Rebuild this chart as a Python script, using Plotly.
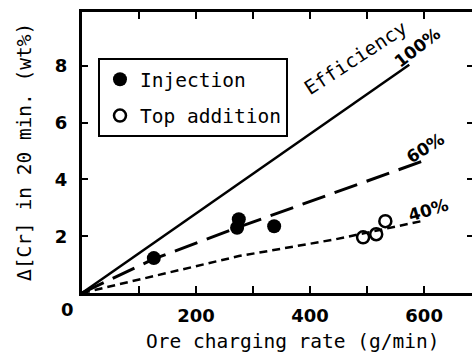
import plotly.graph_objects as go

# ---- data ----
inj_x = [126, 272, 275, 337]
inj_y = [1.23, 2.30, 2.60, 2.35]
top_x = [493, 516, 532]
top_y = [1.96, 2.07, 2.53]

eff100_x = [0, 574]
eff100_y = [0, 8.04]
eff60_x = [0, 126, 272, 595]
eff60_y = [0, 1.20, 2.30, 4.63]
eff40_x = [0, 275, 444, 595]
eff40_y = [0, 1.30, 1.89, 2.53]

x_ticks = [100, 200, 300, 400, 500, 600]
x_ticktext = ["", "200", "", "400", "", "600"]
y_ticks = [2, 4, 6, 8]

MONO = "DejaVu Sans Mono"
BOLD = "DejaVu Sans"

fig = go.Figure()

fig.add_trace(go.Scatter(x=eff100_x, y=eff100_y, mode="lines",
                         line=dict(color="black", width=2.5), showlegend=False))
fig.add_trace(go.Scatter(x=eff60_x, y=eff60_y, mode="lines",
                         line=dict(color="black", width=3, dash="24px,10px"), showlegend=False))
fig.add_trace(go.Scatter(x=eff40_x, y=eff40_y, mode="lines",
                         line=dict(color="black", width=2.5, dash="8px,5px"), showlegend=False))

fig.add_trace(go.Scatter(x=inj_x, y=inj_y, mode="markers", name="Injection",
                         legendgroup="a",
                         marker=dict(symbol="circle", size=14, color="black")))
fig.add_trace(go.Scatter(x=top_x, y=top_y, mode="markers", name="Top addition",
                         legendgroup="b",
                         marker=dict(symbol="circle-open", size=12, color="black",
                                     line=dict(width=2.5, color="black"))))
# empty trace to carry the right-hand tick axis
fig.add_trace(go.Scatter(x=[], y=[], yaxis="y2", showlegend=False, hoverinfo="skip"))

fig.update_layout(
    width=472, height=356,
    margin=dict(l=82, r=0, t=12, b=63),
    paper_bgcolor="white", plot_bgcolor="white",
    font=dict(family=MONO, size=19.5, color="black"),
    xaxis=dict(range=[0, 684], showgrid=False, zeroline=False,
               showline=True, linecolor="black", linewidth=3, mirror="ticks",
               ticks="inside", ticklen=7, tickwidth=2, tickcolor="black",
               tickvals=x_ticks, ticktext=x_ticktext,
               tickfont=dict(family=BOLD, size=18, color="black", weight="bold"),
               ticklabelstandoff=4),
    yaxis=dict(range=[0, 9.9], showgrid=False, zeroline=False,
               showline=True, linecolor="black", linewidth=3,
               ticks="inside", ticklen=6, tickwidth=2, tickcolor="black",
               tickvals=y_ticks,
               tickfont=dict(family=BOLD, size=18, color="black", weight="bold"),
               ticklabelstandoff=8),
    yaxis2=dict(overlaying="y", matches="y", side="right", showgrid=False,
                zeroline=False, showline=False, ticks="inside", ticklen=5,
                tickwidth=2, tickcolor="black", tickvals=y_ticks,
                showticklabels=False),
    legend=dict(x=0.041, y=0.836, xanchor="left", yanchor="top",
                bordercolor="black", borderwidth=2, bgcolor="white",
                font=dict(family=MONO, size=19.5, color="black"),
                tracegroupgap=8, itemsizing="trace"),
    showlegend=True,
)

ann = [
    dict(text="0", x=-0.036, y=-0.06, xref="paper", yref="paper",
         font=dict(family=BOLD, size=18, weight="bold")),
    dict(text="Ore charging rate (g/min)", x=0.541, y=-0.174, xref="paper", yref="paper",
         font=dict(family=MONO, size=19.5)),
    dict(text="Δ[Cr] in 20 min. (wt%)", x=-0.146, y=0.502, xref="paper", yref="paper",
         textangle=-90, font=dict(family=MONO, size=19.5)),
    dict(text="Efficiency", x=479, y=8.27, xref="x", yref="y", textangle=-33,
         font=dict(family=MONO, size=19.5)),
    dict(text="100%", x=589, y=8.66, xref="x", yref="y", textangle=-38,
         font=dict(family=BOLD, size=17, weight="bold")),
    dict(text="60%", x=602, y=5.1, xref="x", yref="y", textangle=-32,
         font=dict(family=BOLD, size=17, weight="bold")),
    dict(text="40%", x=607, y=2.92, xref="x", yref="y", textangle=-17,
         font=dict(family=BOLD, size=17, weight="bold")),
]
for a in ann:
    a.update(showarrow=False, xanchor="center", yanchor="middle")
fig.update_layout(annotations=ann)

fig.write_html("out.html", config={"displayModeBar": False},
               post_script="document.body.style.margin='0';document.body.style.overflow='hidden';")
